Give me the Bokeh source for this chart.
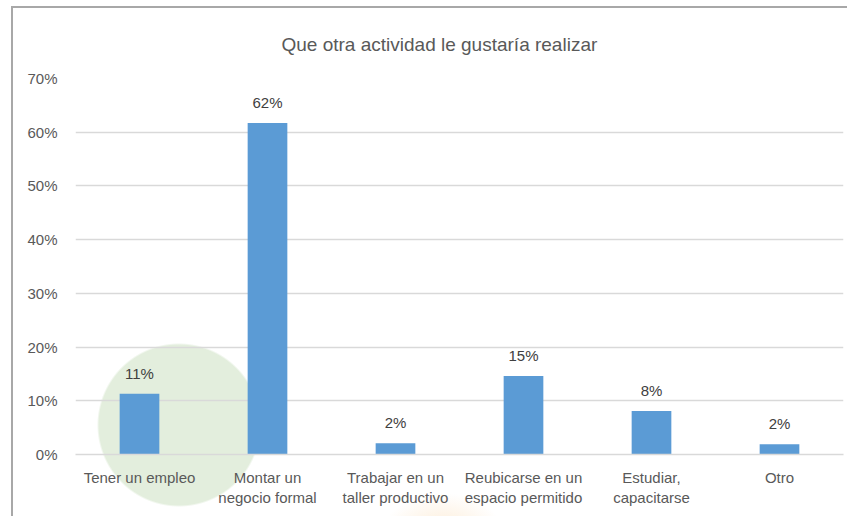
from bokeh.plotting import figure
from bokeh.models import ColumnDataSource, LabelSet, NumeralTickFormatter, FixedTicker, Title
from bokeh.core.properties import value
from bokeh.embed import file_html
from bokeh.resources import INLINE

title_text = "Que otra actividad le gustaría realizar"
categories = ["Tener un empleo", "Montar un\nnegocio formal", "Trabajar en un\ntaller productivo",
              "Reubicarse en un\nespacio permitido", "Estudiar,\ncapacitarse", "Otro"]
values = [0.113, 0.617, 0.021, 0.146, 0.081, 0.019]
y_ticks = [0, 0.1, 0.2, 0.3, 0.4, 0.5, 0.6, 0.7]

FONT = "Liberation Sans"
TXT = "#595959"

src = ColumnDataSource(dict(cat=categories, val=values,
                            lab=[f"{round(v * 100)}%" for v in values]))

p = figure(x_range=categories, y_range=(0, 0.7), width=836, height=510,
           output_backend="svg", toolbar_location=None,
           min_border_left=62, min_border_right=6, min_border_top=68, min_border_bottom=64,
           styles={"border-left": "2px solid #a8a8a8", "border-top": "2px solid #a8a8a8",
                   "margin-left": "11px", "margin-top": "6px",
                   "background": "radial-gradient(ellipse 60px 40px at 430px 525px, rgba(250,220,180,0.55) 0px, rgba(255,255,255,0) 60px), radial-gradient(circle 82px at 166px 417px, #e3eedd 80px, rgba(255,255,255,0) 82px), #ffffff"})
p.border_fill_color = None
p.background_fill_color = None
p.outline_line_color = None

p.title = Title(text=title_text, align="left", offset=206, standoff=47, text_font=FONT,
                text_font_size="19px", text_color=TXT, text_font_style="normal")

p.vbar(x="cat", top="val", width=0.31, source=src, fill_color="#5b9bd5", line_color=None)

labels = LabelSet(x="cat", y="val", text="lab", source=src, text_align="center",
                  text_baseline="bottom", y_offset=12, text_font=value(FONT),
                  text_font_size=value("15px"), text_color="#404040")
p.add_layout(labels)

p.yaxis.ticker = FixedTicker(ticks=y_ticks)
p.yaxis.formatter = NumeralTickFormatter(format="0%")
p.yaxis.axis_line_color = None
p.yaxis.major_tick_line_color = None
p.yaxis.minor_tick_line_color = None
p.yaxis.major_label_standoff = 12
p.yaxis.major_label_text_font = FONT
p.yaxis.major_label_text_font_size = "15px"
p.yaxis.major_label_text_color = TXT

p.xaxis.axis_line_color = "#d9d9d9"
p.xaxis.axis_line_width = 1.5
p.xaxis.major_tick_line_color = None
p.xaxis.minor_tick_line_color = None
p.xaxis.major_label_standoff = 8
p.xaxis.major_label_text_font = FONT
p.xaxis.major_label_text_font_size = "15px"
p.xaxis.major_label_text_color = TXT

p.xgrid.grid_line_color = None
p.ygrid.grid_line_color = "#d9d9d9"
p.ygrid.grid_line_width = 1.5

open("out.html", "w").write(file_html(p, INLINE))
